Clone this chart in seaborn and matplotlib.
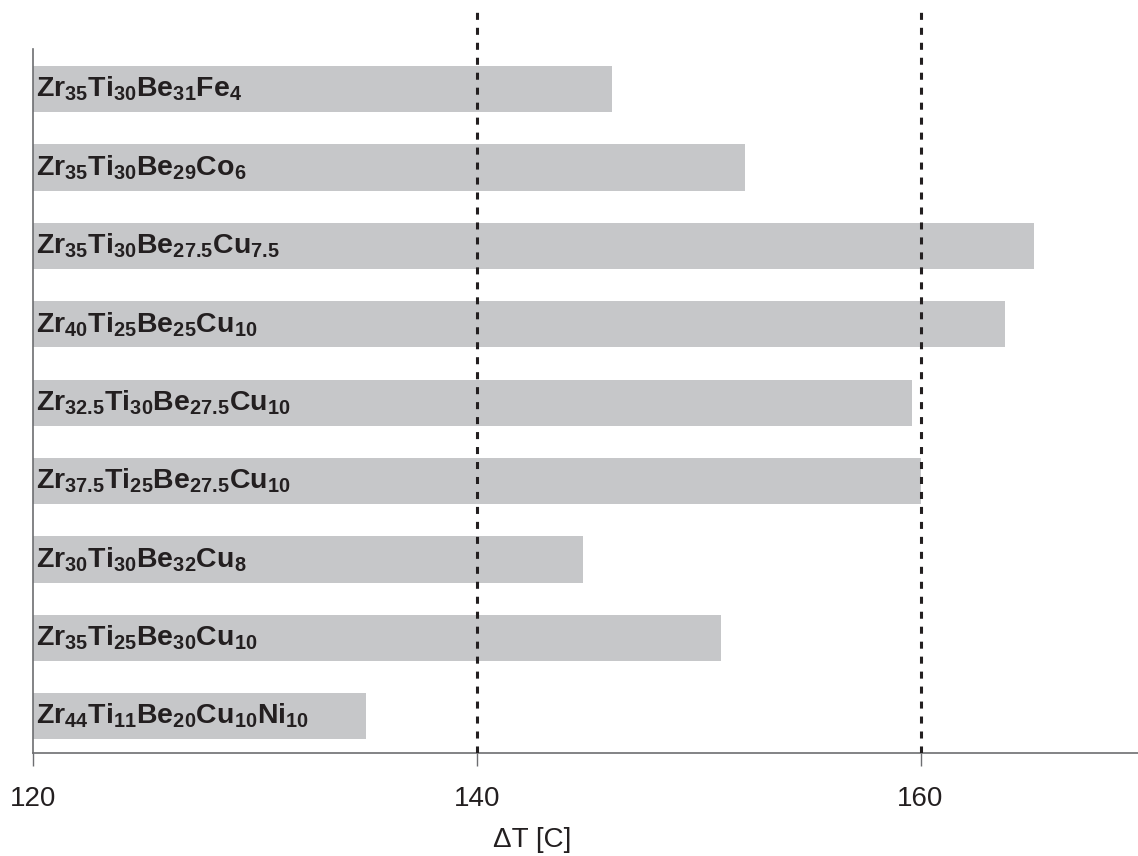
import matplotlib
matplotlib.use("Agg")
import matplotlib.pyplot as plt
import seaborn as sns
import pandas as pd

alloys = [
    r"$Zr_{35}Ti_{30}Be_{31}Fe_{4}$",
    r"$Zr_{35}Ti_{30}Be_{29}Co_{6}$",
    r"$Zr_{35}Ti_{30}Be_{27.5}Cu_{7.5}$",
    r"$Zr_{40}Ti_{25}Be_{25}Cu_{10}$",
    r"$Zr_{32.5}Ti_{30}Be_{27.5}Cu_{10}$",
    r"$Zr_{37.5}Ti_{25}Be_{27.5}Cu_{10}$",
    r"$Zr_{30}Ti_{30}Be_{32}Cu_{8}$",
    r"$Zr_{35}Ti_{25}Be_{30}Cu_{10}$",
    r"$Zr_{44}Ti_{11}Be_{20}Cu_{10}Ni_{10}$",
]
delta_t = [146.1, 152.1, 165.1, 163.8, 159.6, 160.0, 144.8, 151.0, 135.0]
ref_lines = [140, 160]
x_ticks = [120, 140, 160]

sns.set_theme(style="white")
plt.rcParams["font.family"] = ["Liberation Sans", "DejaVu Sans"]
plt.rcParams["mathtext.fontset"] = "custom"
plt.rcParams["mathtext.rm"] = "Liberation Sans:bold"
plt.rcParams["mathtext.it"] = "Liberation Sans:bold"
plt.rcParams["mathtext.bf"] = "Liberation Sans:bold"
plt.rcParams["mathtext.default"] = "bf"

df = pd.DataFrame({"alloy": alloys, "dt": delta_t})

fig = plt.figure(figsize=(11.38, 8.56), dpi=100)
ax = fig.add_axes([33 / 1138, 1 - 753 / 856, 1 - 33 / 1138, (753 - 10) / 856])

sns.barplot(data=df, x="dt", y="alloy", orient="h", color="#c6c7c9",
            saturation=1, width=0.59, ax=ax, edgecolor="none")

ax.set_xlim(120, 169.8)
ax.set_ylim(8.47, -1.01)

for xv in ref_lines:
    ax.axvline(xv, color="#231f20", lw=2.2, linestyle=(0, (2.3, 2.6)), zorder=3)

for i, lab in enumerate(alloys):
    ax.text(120.12, i, lab, ha="left", va="center", fontsize=20.5,
            color="#231f20", zorder=4)

ax.set_yticks([])
ax.set_ylabel("")
ax.set_xticks(x_ticks)
ax.set_xticklabels([str(t) for t in x_ticks], fontsize=20, color="#231f20")
ax.tick_params(axis="x", direction="out", length=9, width=1.0,
               color="#6d6e71", pad=15, bottom=True)
ax.set_xlabel("ΔT [C]", fontsize=20, color="#231f20")
ax.xaxis.set_label_coords((532 - 33) / (1138 - 33), -(840 - 753) / 743)
ax.xaxis.label.set_va("center")

for s in ["top", "right"]:
    ax.spines[s].set_visible(False)
ax.spines["left"].set_bounds(8.47, -0.51)
for s in ["left", "bottom"]:
    ax.spines[s].set_color("#6d6e71")
    ax.spines[s].set_linewidth(1.2)

fig.savefig("out.png", dpi=100, facecolor="white")
